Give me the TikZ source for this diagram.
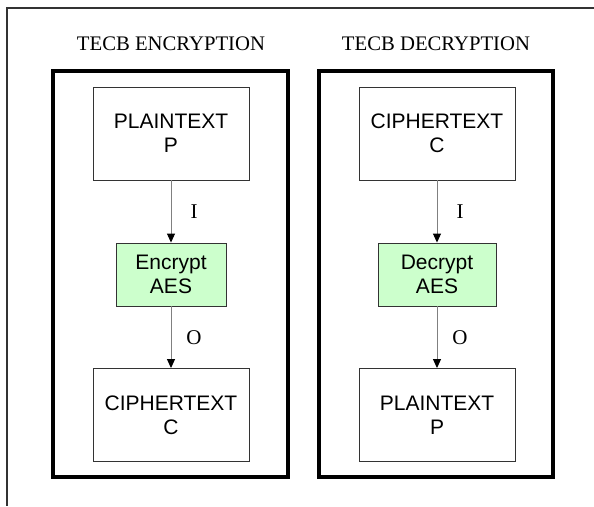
\documentclass[tikz,border=0pt]{standalone}
\usepackage{fontspec}
\setmainfont{Liberation Serif}
\setsansfont{Liberation Sans}
\usetikzlibrary{arrows.meta}
\definecolor{aesgruen}{HTML}{CCFFCC}
\definecolor{rahmen}{HTML}{333333}
\tikzset{
  textbox/.style={draw=rahmen,line width=0.9pt,minimum width=156pt,minimum height=93pt,
    align=center,font=\sffamily\fontsize{21}{24}\selectfont,inner sep=0pt},
  aesbox/.style={textbox,fill=aesgruen,minimum height=63pt},
  pfeil/.style={draw=gray,line width=1pt,-{Triangle[length=9pt,width=8pt,color=black]}},
  marke/.style={font=\fontsize{21}{24}\selectfont,xshift=23pt},
  titel/.style={font=\fontsize{20.7}{24}\selectfont,anchor=base}
}
\begin{document}
\begin{tikzpicture}[x=1pt,y=-1pt]
				\useasboundingbox (0,0) rectangle (594,506);
				% Rahmen
				\draw[line width=1.2pt,rahmen] (594,8) -- (7,8) -- (7,506);
				% Verschluesselung
				\node[titel] (tenc) at (171,50) {TECB ENCRYPTION};
				\draw[line width=4pt] (53,71) rectangle (288,477);
				\node[textbox] (ep) at (171,133.5) {PLAINTEXT\\P};
				\node[aesbox,minimum width=110pt] (enc) at (171,274.5) {Encrypt\\AES};
				\node[textbox] (ec) at (171,415) {CIPHERTEXT\\C};
				\draw[pfeil] (ep) -- (enc) node[midway,marke] {I};
				\draw[pfeil] (enc) -- (ec) node[midway,marke] {O};
				% Entschluesselung
				\node[titel] (tdec) at (436,50) {TECB DECRYPTION};
				\draw[line width=4pt] (319,71) rectangle (553,477);
				\node[textbox] (dc) at (437,133.5) {CIPHERTEXT\\C};
				\node[aesbox,minimum width=118pt] (dec) at (437,274.5) {Decrypt\\AES};
				\node[textbox] (dp) at (437,415) {PLAINTEXT\\P};
				\draw[pfeil] (dc) -- (dec) node[midway,marke] {I};
				\draw[pfeil] (dec) -- (dp) node[midway,marke] {O};
			\end{tikzpicture}
\end{document}
